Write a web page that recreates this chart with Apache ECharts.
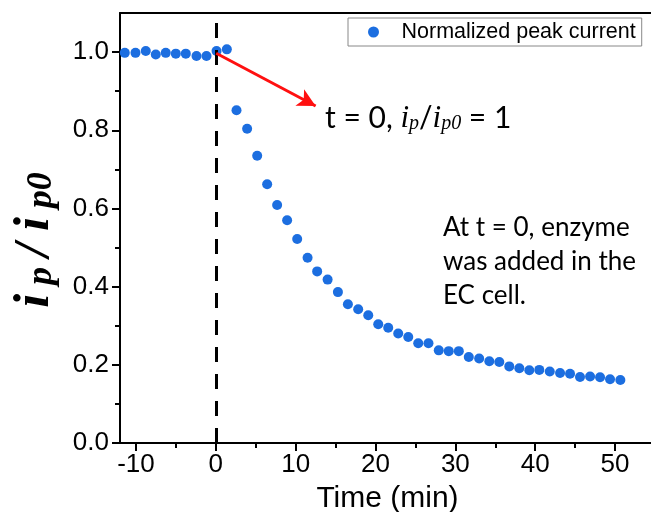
<!DOCTYPE html>
<html>
<head>
<meta charset="utf-8">
<script src="https://cdn.jsdelivr.net/npm/echarts@6/dist/echarts.min.js"></script>
<style>html,body{margin:0;padding:0;background:#fff;}#c{width:651px;height:512px;}</style>
</head>
<body>
<div id="c"></div>
<script>
const seriesName = 'Normalized peak current';
const timeMin = [-11.4,-10.06,-8.77,-7.52,-6.27,-5.01,-3.76,-2.42,-1.17,0.09,1.38,
  2.59,3.92,5.18,6.43,7.68,8.93,10.19,11.49,12.69,14.0,15.29,16.54,17.83,19.09,20.34,
  21.59,22.84,24.10,25.35,26.63,27.92,29.17,30.43,31.68,32.98,34.25,35.50,36.75,38.01,
  39.26,40.51,41.82,43.11,44.36,45.61,46.87,48.12,49.37,50.66];
const ratio = [0.998,0.998,1.003,0.994,0.998,0.996,0.996,0.990,0.990,1.003,1.007,
  0.851,0.804,0.735,0.662,0.609,0.570,0.522,0.474,0.439,0.418,0.386,0.355,0.342,0.327,0.304,
  0.295,0.280,0.271,0.255,0.255,0.237,0.235,0.235,0.220,0.216,0.209,0.207,0.196,0.191,
  0.186,0.187,0.183,0.179,0.177,0.169,0.170,0.168,0.163,0.161];
const xMajorTicks = [-10,0,10,20,30,40,50];
const xMinorTicks = [-5,5,15,25,35,45];
const yMajorTicks = [0,0.2,0.4,0.6,0.8,1.0];
const yMinorTicks = [0.1,0.3,0.5,0.7,0.9];
const xRange = [-12, 55];
const yRange = [0, 1.1];
const arrowFrom = [0.05, 0.997];
const arrowTo = [12.5, 0.862];

const chart = echarts.init(document.getElementById('c'), null, {renderer:'canvas'});
const gridBox = {left:120, right:-4, top:13, bottom:69, containLabel:false, outerBoundsMode:'none'};
const sans = 'Liberation Sans';
const serif = 'Liberation Serif';
const option = {
  backgroundColor:'#fff',
  animation:false,
  grid:[
    Object.assign({show:false}, gridBox),
    Object.assign({show:false}, gridBox)
  ],
  legend:{
    data:[seriesName], left:348, top:18, orient:'horizontal',
    padding:[3,6,3,20], itemWidth:30, itemHeight:11, icon:'circle',
    borderColor:'#888', borderWidth:1, backgroundColor:'#fff',
    textStyle:{fontFamily:sans, fontSize:21.5, color:'#000', padding:[0,0,0,8]}
  },
  xAxis:[
    {type:'value', gridIndex:0, min:xRange[0], max:xRange[1], position:'bottom',
     axisLine:{show:true, onZero:false, lineStyle:{color:'#000', width:2}},
     axisTick:{show:true, inside:false, length:8, customValues:xMajorTicks, lineStyle:{color:'#000', width:2}},
     axisLabel:{show:true, customValues:xMajorTicks, margin:9, fontFamily:sans, fontSize:26, color:'#000'},
     splitLine:{show:false},
     name:'Time (min)', nameLocation:'middle', nameGap:41,
     nameTextStyle:{fontFamily:sans, fontSize:30, color:'#000'}},
    {type:'value', gridIndex:1, min:xRange[0], max:xRange[1], position:'bottom',
     axisLine:{show:false, onZero:false},
     axisTick:{show:true, inside:false, length:5, customValues:xMinorTicks, lineStyle:{color:'#000', width:2}},
     axisLabel:{show:false}, splitLine:{show:false}},
    {type:'value', gridIndex:0, min:xRange[0], max:xRange[1], position:'top',
     axisLine:{show:true, onZero:false, lineStyle:{color:'#000', width:2}},
     axisTick:{show:false}, axisLabel:{show:false}, splitLine:{show:false}}
  ],
  yAxis:[
    {type:'value', gridIndex:0, min:yRange[0], max:yRange[1], position:'left',
     axisLine:{show:true, onZero:false, lineStyle:{color:'#000', width:2}},
     axisTick:{show:true, inside:false, length:8, customValues:yMajorTicks, lineStyle:{color:'#000', width:2}},
     axisLabel:{show:true, customValues:yMajorTicks, margin:11, fontFamily:sans, fontSize:26, color:'#000',
       formatter:v=>v.toFixed(1)},
     splitLine:{show:false},
     name:'{i|i}{s|p}{i|/}{i|i}{e|p0}', nameLocation:'middle', nameRotate:90, nameGap:60,
     nameTextStyle:{rich:{
       i:{fontFamily:serif, fontStyle:'italic', fontWeight:'bold', fontSize:50, color:'#000', padding:[0,6,0,6]},
       s:{fontFamily:serif, fontStyle:'italic', fontWeight:'bold', fontSize:36, color:'#000', verticalAlign:'bottom', padding:[0,4,0,3]},
       e:{fontFamily:serif, fontStyle:'italic', fontWeight:'bold', fontSize:36, color:'#000', verticalAlign:'bottom', padding:[0,30,0,3]}
     }}},
    {type:'value', gridIndex:1, min:yRange[0], max:yRange[1], position:'left',
     axisLine:{show:false, onZero:false},
     axisTick:{show:true, inside:false, length:5, customValues:yMinorTicks, lineStyle:{color:'#000', width:2}},
     axisLabel:{show:false}, splitLine:{show:false}}
  ],
  series:[
    {type:'line', name:'guides', xAxisIndex:0, yAxisIndex:0, data:[], z:1, silent:true,
     markLine:{silent:true, symbol:['none','none'], label:{show:false},
       lineStyle:{color:'#000', width:3, type:[15,12]},
       data:[{xAxis:0}]}},
    {type:'scatter', name:seriesName, xAxisIndex:0, yAxisIndex:0, z:3,
     symbol:'circle', symbolSize:10,
     itemStyle:{color:'#1c6ee0', opacity:1},
     data: timeMin.map((t,i)=>[t, ratio[i]])},
    {type:'line', name:'arrow', xAxisIndex:0, yAxisIndex:0, data:[], z:4, silent:true,
     markLine:{silent:true, symbol:['none','arrow'], symbolSize:[14,18], label:{show:false},
       lineStyle:{color:'#ff1010', width:3, type:'solid'},
       data:[[{coord:arrowFrom},{coord:arrowTo}]]}}
  ],
  graphic:[
    {type:'text', left:325, top:103, style:{
      text:'{a|t = 0, }{i|i}{s|p}{a|/}{i|i}{s|p0}{a| = 1}',
      rich:{
        a:{fontFamily:'Lato', fontSize:30, fill:'#000'},
        i:{fontFamily:serif, fontStyle:'italic', fontSize:31, fill:'#000'},
        s:{fontFamily:serif, fontStyle:'italic', fontSize:20, fill:'#000', verticalAlign:'bottom'}
      }}},
    {type:'text', left:443, top:211, style:{
      text:'At t = 0, enzyme\nwas added in the\nEC cell.',
      fontFamily:'Lato', fontSize:26, lineHeight:34, fill:'#000'}}
  ]
};
chart.setOption(option);
</script>
</body>
</html>
